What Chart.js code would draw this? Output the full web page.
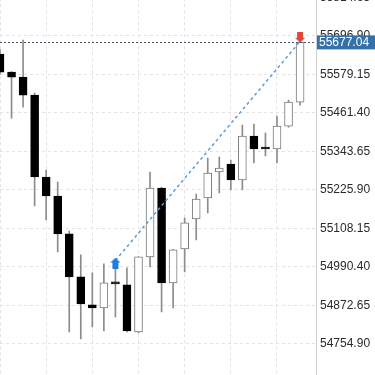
<html>
<head>
<script src="https://cdn.jsdelivr.net/npm/chart.js"></script>
<style>
    body { margin: 0; overflow: hidden; background: #fff; }
    #wrap { position: absolute; left: 0; top: -31px; width: 375px; height: 422px; }
</style>
</head>
<body>
<div id="wrap"><canvas id="chart"></canvas></div>
<script>
    // candle data, one entry per bar (oldest first)
    const opens  = [55641.2, 55586.1, 55570.9, 55515.8, 55265.3, 55207.2, 55091.1, 54959.7, 54874.1, 54864.9, 54939.0, 54935.2, 54791.6, 55020.8, 55231.6, 54941.3, 55045.2, 55136.9, 55201.1, 55280.5, 55305.0, 55256.1, 55390.5, 55351.6, 55350.8, 55421.1, 55494.5];
    const highs  = [55655.0, 55588.0, 55683.9, 55521.9, 55286.6, 55250.0, 55100.2, 55026.9, 54971.9, 54999.4, 54996.3, 54987.2, 55020.8, 55280.5, 55233.5, 55044.0, 55140.0, 55213.3, 55323.3, 55326.4, 55317.3, 55424.2, 55427.2, 55399.7, 55451.7, 55500.6, 55680.9];
    const lows   = [55580.0, 55445.6, 55479.2, 55176.6, 55133.8, 55036.1, 54791.6, 54770.2, 54806.9, 54794.6, 54837.4, 54791.6, 54788.5, 54990.2, 54852.7, 54864.9, 54974.9, 55072.7, 55155.2, 55216.4, 55225.5, 55225.5, 55308.0, 55329.4, 55308.0, 55418.0, 55485.3];
    const closes = [55586.1, 55570.9, 55515.8, 55265.3, 55207.2, 55091.1, 54959.7, 54877.1, 54864.9, 54941.3, 54938.3, 54794.6, 55020.8, 55231.6, 54941.3, 55042.2, 55124.7, 55198.0, 55277.5, 55292.8, 55256.1, 55390.5, 55350.8, 55350.8, 55421.1, 55494.5, 55677.04];

    const yTicks = [54754.90, 54872.65, 54990.40, 55108.15, 55225.90, 55343.65, 55461.40, 55579.15, 55696.90, 55814.65];
    const xGridAt = [2, 6, 10, 14, 18, 22, 26];

    const lastPrice = 55677.04;
    const trendFrom = [10, 55010];
    const trendTo = [26, 55680];
    const buyMark = [10, 55002];
    const sellMark = [26, 55693];

    function arrowIcon(color, up) {
        const c = document.createElement('canvas');
        c.width = 10; c.height = 11;
        const g = c.getContext('2d');
        g.fillStyle = color;
        g.beginPath();
        if (up) {
            g.moveTo(5, 0); g.lineTo(10, 5); g.lineTo(8, 5); g.lineTo(8, 11); g.lineTo(2, 11); g.lineTo(2, 5); g.lineTo(0, 5);
        } else {
            g.moveTo(5, 11); g.lineTo(10, 6); g.lineTo(8, 6); g.lineTo(8, 0); g.lineTo(2, 0); g.lineTo(2, 6); g.lineTo(0, 6);
        }
        g.closePath();
        g.fill();
        return c;
    }

    const wicks = [];
    const bodies = [];
    const fills = [];
    const edges = [];
    for (let i = 0; i < opens.length; i++) {
        wicks.push({x: i, y: [lows[i], highs[i]]});
        bodies.push({x: i, y: [Math.min(opens[i], closes[i]), Math.max(opens[i], closes[i])]});
        const up = closes[i] > opens[i];
        fills.push(up ? '#ffffff' : '#000000');
        edges.push(up ? '#7a7a7a' : '#000000');
    }

    const priceLine = {
        id: 'priceLine',
        afterDatasetsDraw(chart) {
            const ctx = chart.ctx;
            const area = chart.chartArea;
            const y = chart.scales.y.getPixelForValue(lastPrice);
            ctx.save();
            ctx.strokeStyle = '#46546b';
            ctx.lineWidth = 1;
            ctx.setLineDash([2, 2]);
            ctx.beginPath();
            ctx.moveTo(area.left, Math.round(y) + 0.5);
            ctx.lineTo(area.right, Math.round(y) + 0.5);
            ctx.stroke();
            ctx.restore();
        },
        afterDraw(chart) {
            const ctx = chart.ctx;
            const area = chart.chartArea;
            const y = chart.scales.y.getPixelForValue(lastPrice);
            ctx.save();
            ctx.fillStyle = '#3571a9';
            ctx.fillRect(area.right + 1, y - 7, chart.width - area.right - 1, 14);
            ctx.fillStyle = '#ffffff';
            ctx.font = '12px "Liberation Sans", Arial, sans-serif';
            ctx.textBaseline = 'middle';
            ctx.fillText(lastPrice.toFixed(2), area.right + 3, y + 0.5);
            ctx.restore();
        }
    };

    const config = {
        type: 'bar',
        data: {
            datasets: [{
                label: 'bodies',
                data: bodies,
                backgroundColor: fills,
                borderColor: edges,
                borderWidth: 1,
                borderSkipped: false,
                barThickness: 8,
                minBarLength: 2,
                order: 2
            }, {
                label: 'wicks',
                data: wicks,
                backgroundColor: '#8c8c8c',
                barThickness: 1,
                order: 3
            }, {
                type: 'line',
                label: 'trend',
                data: [{x: trendFrom[0], y: trendFrom[1]}, {x: trendTo[0], y: trendTo[1]}],
                borderColor: '#5a9bd8',
                borderWidth: 1.5,
                borderDash: [3, 3],
                pointRadius: 0,
                order: 1
            }, {
                type: 'line',
                label: 'marks',
                data: [{x: buyMark[0], y: buyMark[1]}, {x: sellMark[0], y: sellMark[1]}],
                showLine: false,
                pointStyle: [arrowIcon('#1f7be0', true), arrowIcon('#e0453a', false)],
                pointRadius: 5,
                order: 0
            }]
        },
        options: {
            responsive: true,
            maintainAspectRatio: false,
            animation: false,
            devicePixelRatio: 1,
            layout: { padding: 0, autoPadding: false },
            datasets: { bar: { grouped: false } },
            plugins: { legend: { display: false }, tooltip: { enabled: false } },
            scales: {
                x: {
                    type: 'linear',
                    min: 0,
                    max: 27.38,
                    offset: false,
                    afterBuildTicks: function (scale) {
                        scale.ticks = xGridAt.map(v => ({value: v}));
                    },
                    ticks: { display: false },
                    grid: { color: '#e3e3e3', drawTicks: false },
                    border: { display: false, dash: [3, 3] }
                },
                y: {
                    position: 'right',
                    min: 54644.9,
                    max: 55867.3,
                    afterBuildTicks: function (scale) {
                        scale.ticks = yTicks.map(v => ({value: v}));
                    },
                    afterFit: function (scale) {
                        scale.width = 59;
                    },
                    ticks: {
                        padding: 4,
                        color: '#2a2a2a',
                        font: { family: '"Liberation Sans", Arial, sans-serif', size: 12 },
                        callback: function (v) { return Number(v).toFixed(2); }
                    },
                    grid: { color: '#e3e3e3', drawTicks: false },
                    border: { display: true, color: '#cfcfcf', dash: [3, 3] }
                }
            }
        },
        plugins: [priceLine]
    };

    var myChart = new Chart(document.getElementById('chart'), config);
</script>
</body>
</html>
